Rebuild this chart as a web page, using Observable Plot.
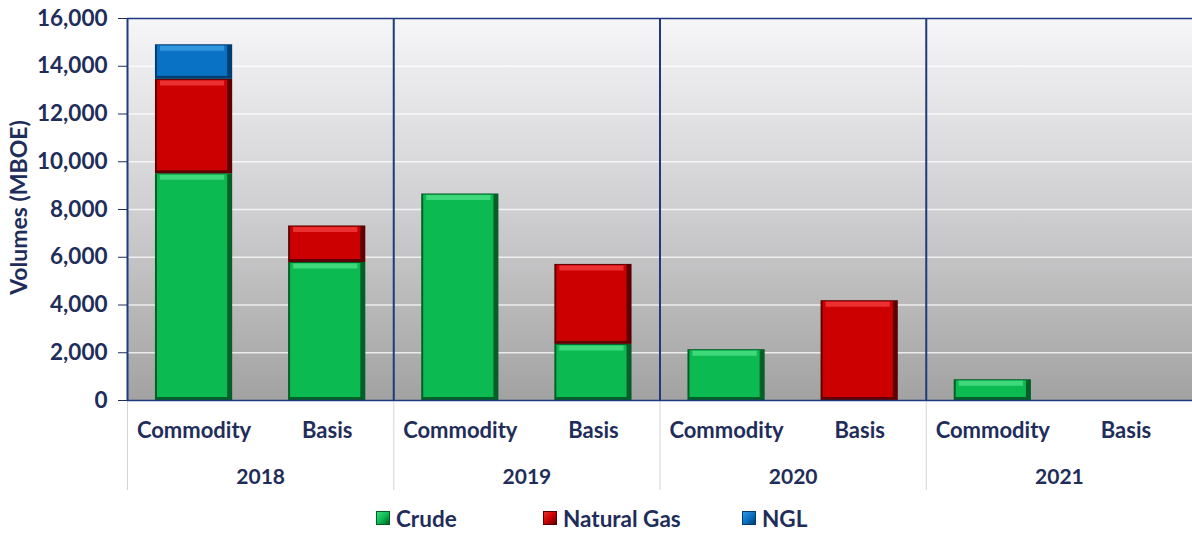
<!DOCTYPE html>
<html><head><meta charset="utf-8">
<script src="https://cdn.jsdelivr.net/npm/d3@7"></script>
<script src="https://cdn.jsdelivr.net/npm/@observablehq/plot@0.6"></script>
<style>
body{margin:0;background:#fff;font-family:Lato,"Open Sans",sans-serif;}
#legend{display:flex;align-items:center;height:36px;padding-left:376px;box-sizing:border-box;padding-top:6px;}
.item{display:flex;align-items:center;font-weight:bold;font-size:22.5px;color:#1f2d5a;}
.sw{width:14px;height:14px;margin-right:6px;box-sizing:border-box;}
</style></head><body>
<svg width="0" height="0" style="position:absolute">
<defs>
<linearGradient id="bg" x1="0" y1="0" x2="0" y2="1">
<stop offset="0" stop-color="#f6f6f8"/>
<stop offset="0.5" stop-color="#cfcfd1"/>
<stop offset="1" stop-color="#a2a2a2"/>
</linearGradient>
</defs></svg>
<div id="chart"></div>
<div id="legend"></div>
<script>
const years = ["2018", "2019", "2020", "2021"];
const types = ["Commodity", "Basis"];
const series = ["Crude", "Natural Gas", "NGL"];
// values per bar, order: 2018 Commodity, 2018 Basis, 2019 Commodity, 2019 Basis, ...
const crude = [9500, 5780, 8650, 2350, 2130, 0, 870, 0];
const naturalGas = [3950, 1530, 0, 3350, 0, 4180, 0, 0];
const ngl = [1450, 0, 0, 0, 0, 0, 0, 0];
const yTicks = [0, 2000, 4000, 6000, 8000, 10000, 12000, 14000, 16000];

const palette = {
  "Crude": {base: "#0bbb52", light: "#3fd97c", dark: "#035f27"},
  "Natural Gas": {base: "#cc0000", light: "#ea3030", dark: "#5e0000"},
  "NGL": {base: "#0a72c4", light: "#3397de", dark: "#003d70"}
};
const navy = "#1f2d5a";
const sepColor = "#1f3a7c";

const valuesBySeries = [crude, naturalGas, ngl];
const half = 0.29;
const bars = [];
const rows = [];
years.forEach((year, g) => {
  types.forEach((type, j) => {
    const i = g * types.length + j;
    const cx = g * types.length + j + 0.5;
    bars.push({year, type, cx});
    let acc = 0;
    series.forEach((s, k) => {
      const v = valuesBySeries[k][i];
      if (v > 0) {
        rows.push({series: s, x1: cx - half, x2: cx + half, y1: acc, y2: acc + v, ...palette[s]});
        acc += v;
      }
    });
  });
});
const yearRows = years.map((year, g) => ({year, cx: g * types.length + types.length / 2}));
const groupEdges = years.map((y, g) => g * types.length);

const chart = Plot.plot({
  width: 1192,
  height: 497,
  marginLeft: 127,
  marginRight: 0,
  marginTop: 18,
  marginBottom: 97,
  style: {fontFamily: "Lato, 'Open Sans', sans-serif", fontSize: "22px", fontWeight: "bold", color: navy, background: "transparent"},
  x: {domain: [0, years.length * types.length]},
  y: {domain: [0, 16000]},
  marks: [
    Plot.frame({fill: "url(#bg)", stroke: "none"}),
    Plot.ruleY(yTicks.slice(1, -1), {stroke: "#ffffff", strokeOpacity: 0.75, strokeWidth: 1.5}),
    Plot.axisY(yTicks, {tickFormat: d3.format(","), tickSize: 9, tickPadding: 11, color: navy, fontSize: 22.5}),
    Plot.axisX(groupEdges, {tickSize: 90, tickFormat: () => "", stroke: "#d4d4d4"}),
    Plot.rect(rows, {x1: "x1", x2: "x2", y1: "y1", y2: "y2", fill: "dark"}),
    Plot.rect(rows, {x1: "x1", x2: "x2", y1: "y1", y2: "y2", fill: "base", insetLeft: 2, insetRight: 5, insetTop: 1, insetBottom: 3}),
    Plot.ruleY(rows, {x1: "x1", x2: "x2", y: "y2", dy: 3.5, stroke: "light", strokeWidth: 5, insetLeft: 5, insetRight: 8}),
    Plot.ruleX(groupEdges.slice(1), {stroke: sepColor, strokeWidth: 2}),
    Plot.ruleX([0], {stroke: sepColor, strokeWidth: 2}),
    Plot.ruleY([0, 16000], {stroke: sepColor, strokeWidth: 1.5}),
    Plot.text(bars, {x: "cx", text: "type", frameAnchor: "bottom", dy: 37, fill: navy}),
    Plot.text(yearRows, {x: "cx", text: "year", frameAnchor: "bottom", dy: 83, fill: navy, fontSize: 21}),
    Plot.text(["Volumes (MBOE)"], {frameAnchor: "left", dx: -108, dy: -2, rotate: -90, textAnchor: "middle", fill: navy, fontSize: 23})
  ]
});
document.getElementById("chart").appendChild(chart);

const legend = document.getElementById("legend");
const itemWidths = [167, 199, null];
series.forEach((s, k) => {
  const c = palette[s];
  const it = document.createElement("div");
  it.className = "item";
  if (itemWidths[k]) it.style.width = itemWidths[k] + "px";
  const sw = document.createElement("div");
  sw.className = "sw";
  sw.style.background = `linear-gradient(135deg, ${c.light}, ${c.base} 50%, ${c.dark})`;
  sw.style.border = `1px solid ${c.dark}`;
  it.appendChild(sw);
  const t = document.createElement("span");
  t.textContent = s;
  it.appendChild(t);
  legend.appendChild(it);
});
</script>
</body></html>
